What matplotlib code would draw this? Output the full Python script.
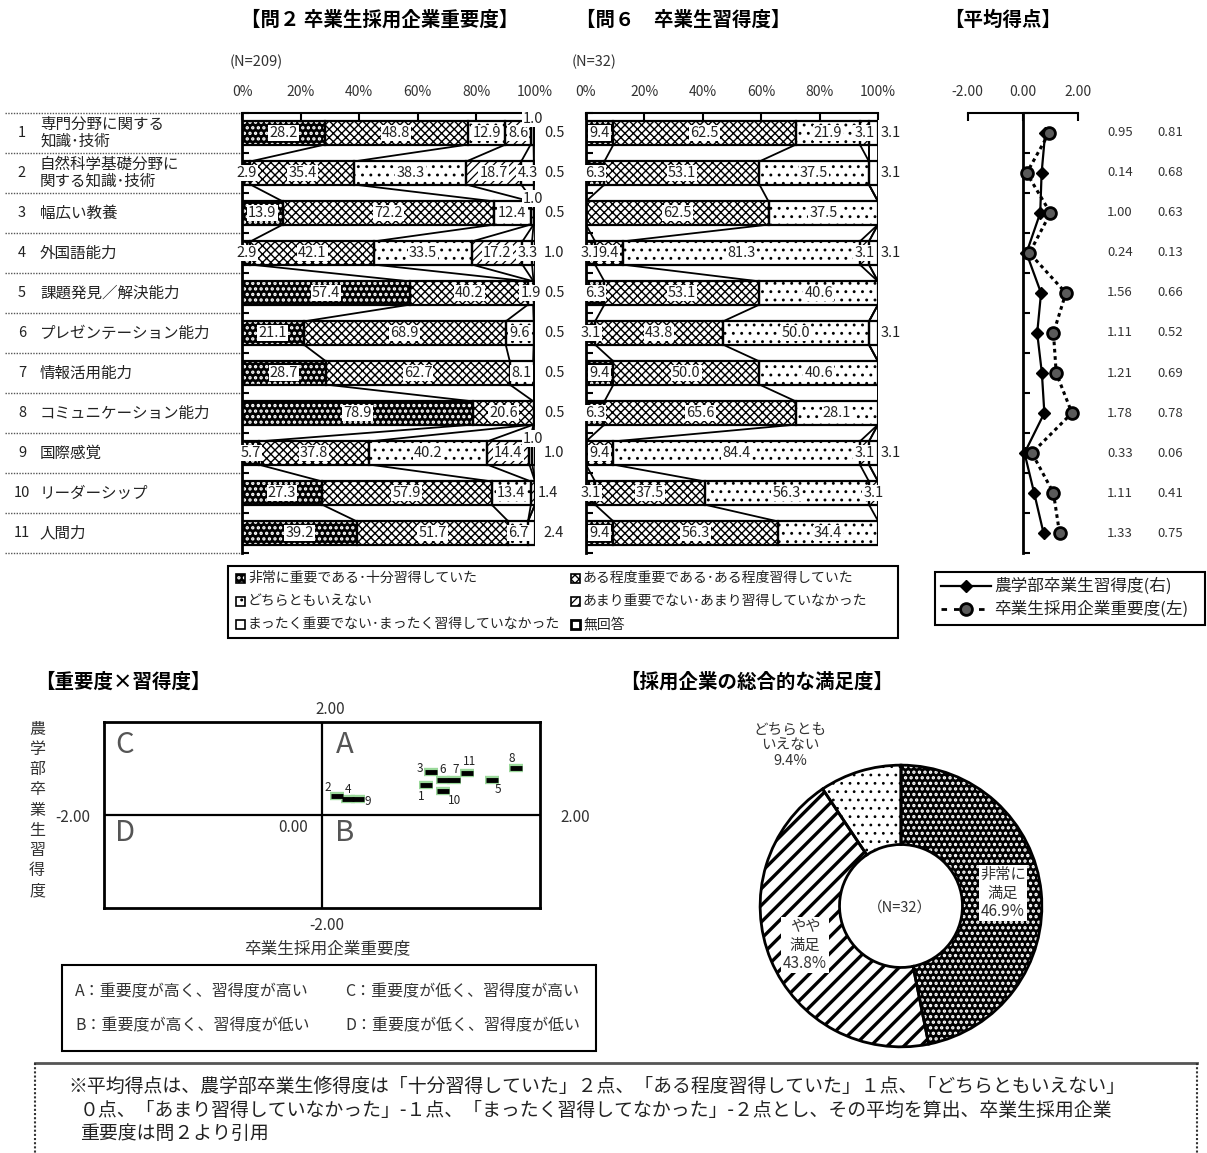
import matplotlib
matplotlib.use('Agg')
import matplotlib.pyplot as plt
from matplotlib.patches import Rectangle
import numpy as np

plt.rcParams['font.family'] = ['Noto Sans CJK JP', 'DejaVu Sans']
plt.rcParams['hatch.linewidth'] = 0.8

W, H, DPI = 1207, 1153, 100

# ---------------- data ----------------
items = ["専門分野に関する\n知識･技術", "自然科学基礎分野に\n関する知識･技術", "幅広い教養",
         "外国語能力", "課題発見／解決能力", "プレゼンテーション能力", "情報活用能力",
         "コミュニケーション能力", "国際感覚", "リーダーシップ", "人間力"]

categories = ["非常に重要である･十分習得していた", "ある程度重要である･ある程度習得していた",
              "どちらともいえない", "あまり重要でない･あまり習得していなかった",
              "まったく重要でない･まったく習得していなかった", "無回答"]

imp_very     = [28.2, 2.9, 13.9, 2.9, 57.4, 21.1, 28.7, 78.9, 5.7, 27.3, 39.2]
imp_some     = [48.8, 35.4, 72.2, 42.1, 40.2, 68.9, 62.7, 20.6, 37.8, 57.9, 51.7]
imp_neither  = [12.9, 38.3, 12.4, 33.5, 1.9, 9.6, 8.1, 0, 40.2, 13.4, 6.7]
imp_notvery  = [8.6, 18.7, 1.0, 17.2, 0, 0, 0, 0, 14.4, 1.4, 0]
imp_notatall = [1.0, 4.3, 0, 3.3, 0, 0, 0, 0, 1.0, 0, 0]
imp_na       = [0.5, 0.5, 0.5, 1.0, 0.5, 0.5, 0.5, 0.5, 1.0, 0, 2.4]

lea_very     = [9.4, 6.3, 0, 3.1, 6.3, 3.1, 9.4, 6.3, 0, 3.1, 9.4]
lea_some     = [62.5, 53.1, 62.5, 9.4, 53.1, 43.8, 50.0, 65.6, 9.4, 37.5, 56.3]
lea_neither  = [21.9, 37.5, 37.5, 81.3, 40.6, 50.0, 40.6, 28.1, 84.4, 56.3, 34.4]
lea_notvery  = [3.1, 0, 0, 3.1, 0, 0, 0, 0, 3.1, 3.1, 0]
lea_notatall = [0, 0, 0, 0, 0, 0, 0, 0, 0, 0, 0]
lea_na       = [3.1, 3.1, 0, 3.1, 0, 3.1, 0, 0, 3.1, 0, 0]

imp_avg = [0.95, 0.14, 1.00, 0.24, 1.56, 1.11, 1.21, 1.78, 0.33, 1.11, 1.33]
lea_avg = [0.81, 0.68, 0.63, 0.13, 0.66, 0.52, 0.69, 0.78, 0.06, 0.41, 0.75]

# y positions of the points as drawn in the quadrant chart
scatter_y = [0.64, 0.41, 0.93, 0.34, 0.76, 0.75, 0.75, 1.01, 0.34, 0.52, 0.91]

sat_labels = ["非常に\n満足", "やや\n満足", "どちらとも\nいえない"]
sat_values = [46.9, 43.8, 9.4]

# ---------------- figure ----------------
fig = plt.figure(figsize=(W / DPI, H / DPI), dpi=DPI)
fig.patch.set_facecolor('white')


def add_ax(x0, y0, x1, y1):
    return fig.add_axes([x0 / W, 1 - y1 / H, (x1 - x0) / W, (y1 - y0) / H])


def hlw(p, v):
    if hasattr(p, 'set_hatch_linewidth'):
        p.set_hatch_linewidth(v)


BH = 0.58
TOP, BOT = 113, 553
n = len(items)
ys = np.arange(n)
TXT = '#222222'
LBOX = dict(boxstyle='square,pad=0.08', fc='white', ec='none')
VFS = 10.5

styles = [
    dict(fc='black', hatch='...', hc='white', hl=1.6),
    dict(fc='white', hatch='xxxx', hc='black', hl=1.0),
    dict(fc='white', hatch='..', hc='black', hl=0.9),
    dict(fc='white', hatch='////', hc='black', hl=0.9),
    dict(fc='white', hatch=None, hc='black', hl=0.8),
    dict(fc='white', hatch=None, hc='black', hl=0.8),
]


def bar_panel(x0, x1, series, na_off):
    ax = add_ax(x0, TOP, x1, BOT)
    cum = np.zeros(n)
    bounds = []
    for k, vals in enumerate(series):
        vals = np.asarray(vals, float)
        st = styles[k]
        m = vals > 0
        bc = ax.barh(ys[m], vals[m], left=cum[m], height=BH, color=st['fc'],
                     edgecolor=st['hc'], hatch=st['hatch'], linewidth=0, zorder=2)
        for p in bc.patches:
            hlw(p, st['hl'])
        ax.barh(ys[m], vals[m], left=cum[m], height=BH, fill=False,
                edgecolor='black', linewidth=1.6, zorder=3)
        for i in range(n):
            v = vals[i]
            if v <= 0:
                continue
            s = f'{v:.1f}'
            if k == len(series) - 1:
                ax.text(100 + na_off, i, s, ha='center', va='center', fontsize=VFS,
                        color=TXT, clip_on=False, zorder=6)
            elif v <= 1.0:
                ax.text(99.3, i - 0.36, s, ha='center', va='center', fontsize=VFS,
                        color=TXT, bbox=LBOX, clip_on=False, zorder=6)
            elif v < 2 and cum[i] + v >= 99.95:
                ax.text(101.0, i, s, ha='left', va='center', fontsize=VFS,
                        color=TXT, bbox=LBOX, clip_on=False, zorder=6)
            else:
                ax.text(cum[i] + v / 2, i, s, ha='center', va='center', fontsize=VFS,
                        color=TXT, bbox=LBOX, clip_on=False, zorder=6)
        cum = cum + vals
        bounds.append(cum.copy())
    for b in bounds:
        for i in range(n - 1):
            ax.plot([b[i], b[i + 1]], [i + BH / 2, i + 1 - BH / 2], color='black',
                    lw=1.3, zorder=1, solid_capstyle='butt')
    ax.set_xlim(0, 100)
    ax.set_ylim(n - 0.5, -0.5)
    ax.xaxis.tick_top()
    ax.set_xticks([0, 20, 40, 60, 80, 100])
    ax.set_xticklabels(['0%', '20%', '40%', '60%', '80%', '100%'])
    ax.tick_params(axis='x', direction='in', length=5, width=1.5, pad=10,
                   labelsize=10, labelcolor='#333333', top=True, bottom=False)
    ax.set_yticks([])
    ax.set_yticks(np.arange(n + 1) - 0.5, minor=True)
    ax.tick_params(axis='y', which='minor', direction='in', length=5, width=1.5)
    for sp in ['right', 'bottom']:
        ax.spines[sp].set_visible(False)
    ax.spines['top'].set_linewidth(1.5)
    ax.spines['left'].set_linewidth(2)
    ax.patch.set_alpha(0)
    return ax


imp_series = [imp_very, imp_some, imp_neither, imp_notvery, imp_notatall, imp_na]
lea_series = [lea_very, lea_some, lea_neither, lea_notvery, lea_notatall, lea_na]
bar_panel(242, 535, imp_series, 6.5)
bar_panel(586, 878, lea_series, 4.5)

# ---------------- average score panel ----------------
ax3 = add_ax(967.7, TOP, 1078, BOT)
ax3.set_xlim(-2, 2)
ax3.set_ylim(n - 0.5, -0.5)
ax3.plot(lea_avg, ys, '-', color='black', lw=1.6, marker='D', ms=6.5,
         mfc='black', mec='black', zorder=3, clip_on=False)
ax3.plot(imp_avg, ys, linestyle=(0, (1.2, 1.2)), color='black', lw=2.2, marker='o',
         ms=8.5, mfc='#5a5a5a', mec='black', mew=2, zorder=4, clip_on=False)
for i in range(n):
    ax3.text(1.381, i, f'{imp_avg[i]:.2f}', transform=ax3.get_yaxis_transform(),
             ha='center', va='center', fontsize=9.5, color='#333333')
    ax3.text(1.834, i, f'{lea_avg[i]:.2f}', transform=ax3.get_yaxis_transform(),
             ha='center', va='center', fontsize=9.5, color='#333333')
ax3.xaxis.tick_top()
ax3.set_xticks([-2, 0, 2])
ax3.set_xticklabels(['-2.00', '0.00', '2.00'])
ax3.tick_params(axis='x', direction='in', length=6, width=1.5, pad=10,
                labelsize=10, labelcolor='#333333', top=True, bottom=False)
ax3.set_yticks([])
ax3.set_yticks(np.arange(n + 1) - 0.5, minor=True)
ax3.tick_params(axis='y', which='minor', direction='in', length=5, width=1.5)
ax3.spines['left'].set_position(('data', 0))
ax3.spines['left'].set_linewidth(2)
ax3.spines['top'].set_linewidth(1.5)
for sp in ['right', 'bottom']:
    ax3.spines[sp].set_visible(False)
ax3.patch.set_alpha(0)

# ---------------- quadrant chart ----------------
ax4 = add_ax(104, 722, 540, 908)
ax4.set_xlim(-2, 2)
ax4.set_ylim(-2, 2)
ax4.axhline(0, color='black', lw=1.6)
ax4.axvline(0, color='black', lw=1.6)
for sp in ax4.spines.values():
    sp.set_linewidth(2)
ax4.set_xticks([])
ax4.set_yticks([])
ax4.plot(imp_avg, scatter_y, linestyle='none', marker='_', ms=9.5, mew=6,
         color='#9ad89a', zorder=3)
ax4.plot(imp_avg, scatter_y, linestyle='none', marker='_', ms=8.5, mew=3.5,
         color='black', zorder=4)
pt_off = {1: (-3, -8), 2: (-7, 6), 3: (-8, 2), 4: (0, 7), 5: (4, -7), 6: (0, 8),
          7: (1, 8), 8: (-3, 7), 9: (7, -2), 10: (8, -7), 11: (2, 8)}
for i in range(n):
    ox, oy = pt_off[i + 1]
    ax4.annotate(str(i + 1), (imp_avg[i], scatter_y[i]), xytext=(ox, oy),
                 textcoords='offset points', ha='center', va='center',
                 fontsize=8.5, color='#222222', zorder=5)

# ---------------- donut ----------------
ax5 = add_ax(758, 763, 1044, 1049)
ax5.set_aspect('equal')
with plt.rc_context({'hatch.linewidth': 1.0}):
    wedges, _ = ax5.pie(sat_values, radius=0.985, startangle=90, counterclock=False,
                        wedgeprops=dict(width=0.985 - 0.43, linewidth=0))
don_styles = [('black', 'white', '...', 1.6), ('white', 'black', '//', 2.4),
              ('white', 'black', '..', 0.8)]
for w, (fc, hc, ht, hl) in zip(wedges, don_styles):
    w.set_facecolor(fc)
    w.set_edgecolor(hc)
    w.set_hatch(ht)
    w.set_linewidth(0)
    hlw(w, hl)
ax5.pie(sat_values, radius=0.985, startangle=90, counterclock=False,
        wedgeprops=dict(width=0.985 - 0.43, linewidth=2, edgecolor='black', fill=False))
ax5.set_xlim(-1, 1)
ax5.set_ylim(-1, 1)
ax5.axis('off')

# ---------------- overlay (pixel coordinates) ----------------
ov = fig.add_axes([0, 0, 1, 1])
ov.set_xlim(0, W)
ov.set_ylim(H, 0)
ov.axis('off')
ov.patch.set_alpha(0)


def T(x, y, s, **kw):
    kw.setdefault('ha', 'center')
    kw.setdefault('va', 'center')
    kw.setdefault('color', TXT)
    ov.text(x, y, s, **kw)


T(380, 20, '【問２ 卒業生採用企業重要度】', fontsize=14, fontweight='bold', color='black')
T(683, 20, '【問６　卒業生習得度】', fontsize=14, fontweight='bold', color='black')
T(1003, 20, '【平均得点】', fontsize=14, fontweight='bold', color='black')
T(230, 62, '(N=209)', ha='left', fontsize=10.5, color='#333333')
T(572, 62, '(N=32)', ha='left', fontsize=10.5, color='#333333')

# category labels and dotted separators
for j in range(n + 1):
    yy = TOP + j * (BOT - TOP) / n
    ov.plot([5, 240], [yy, yy], color='#555555', lw=1.0, linestyle=(0, (1, 1)))
for i, lab in enumerate(items):
    yy = TOP + (i + 0.5) * (BOT - TOP) / n
    T(22, yy, str(i + 1), fontsize=10.5)
    T(40, yy, lab, ha='left', fontsize=11.2, linespacing=1.0)

# bar legend
ov.add_patch(Rectangle((228, 566), 670, 72, fill=False, lw=1.5, ec='black'))
for k, cat in enumerate(categories):
    cx = [236, 571][k % 2]
    cy = [578, 601, 624][k // 2]
    st = styles[k]
    sq = Rectangle((cx, cy - 4.5), 9, 9, facecolor=st['fc'], edgecolor=st['hc'],
                   hatch=st['hatch'], lw=0)
    hlw(sq, st['hl'])
    ov.add_patch(sq)
    ov.add_patch(Rectangle((cx, cy - 4.5), 9, 9, fill=False, edgecolor='black',
                           lw=2.0 if k == 5 else 1.2))
    T(cx + 12, cy, cat, ha='left', fontsize=10)

# average legend
ov.add_patch(Rectangle((935, 572), 270, 53, fill=False, lw=1.5, ec='black'))
ov.plot([941, 991], [586, 586], '-', color='black', lw=1.6)
ov.plot([966], [586], 'D', color='black', ms=6.5)
T(994, 586, '農学部卒業生習得度(右)', ha='left', fontsize=12)
ov.plot([941, 991], [609, 609], linestyle=(0, (2, 2.5)), color='black', lw=2)
ov.plot([966], [609], 'o', ms=8.5, mfc='#5a5a5a', mec='black', mew=2)
T(994, 609, '卒業生採用企業重要度(左)', ha='left', fontsize=12)

# quadrant chart texts
T(35, 682, '【重要度×習得度】', ha='left', fontsize=14, fontweight='bold', color='black')
T(330, 710, '2.00', fontsize=11, color='#333333')
T(73, 817, '-2.00', fontsize=11, color='#333333')
T(575, 817, '2.00', fontsize=11, color='#333333')
T(293, 827, '0.00', fontsize=11, color='#333333')
T(327, 925, '-2.00', fontsize=11, color='#333333')
for ch, (qx, qy) in zip('CADB', [(125, 745), (345, 745), (125, 833), (345, 833)]):
    T(qx, qy, ch, fontsize=21, color='#555555')
T(37, 810, '\n'.join('農学部卒業生習得度'), fontsize=11.5, linespacing=1.25, color='#333333')
T(327, 949, '卒業生採用企業重要度', fontsize=12, color='#333333')

ov.add_patch(Rectangle((62, 965), 534, 86, fill=False, lw=1.5, ec='black'))
T(75, 992, 'A：重要度が高く、習得度が高い', ha='left', fontsize=11.5, color='#333333')
T(345, 992, 'C：重要度が低く、習得度が高い', ha='left', fontsize=11.5, color='#333333')
T(75, 1026, 'B：重要度が高く、習得度が低い', ha='left', fontsize=11.5, color='#333333')
T(345, 1026, 'D：重要度が低く、習得度が低い', ha='left', fontsize=11.5, color='#333333')

# donut texts
T(620, 682, '【採用企業の総合的な満足度】', ha='left', fontsize=14, fontweight='bold', color='black')
T(790, 745, f'{sat_labels[2]}\n{sat_values[2]:.1f}%', fontsize=10.5, linespacing=1.15, color='#333333')
T(1003, 893, f'{sat_labels[0]}\n{sat_values[0]:.1f}%', fontsize=11, linespacing=1.1, color='#333333',
  bbox=dict(boxstyle='square,pad=0.1', fc='white', ec='none'))
T(805, 945, f'{sat_labels[1]}\n{sat_values[1]:.1f}%', fontsize=11, linespacing=1.1, color='#333333',
  bbox=dict(boxstyle='square,pad=0.1', fc='white', ec='none'))
T(900, 908, '（N=32）', fontsize=10.5, color='#333333')

# footnote
ov.plot([35, 1197], [1063, 1063], color='#555555', lw=2)
ov.plot([35, 35], [1063, 1153], color='#333333', lw=1.5, linestyle=(0, (1, 1)))
ov.plot([1197, 1197], [1063, 1153], color='#333333', lw=1.5, linestyle=(0, (1, 1)))
T(68, 1086, '※平均得点は、農学部卒業生修得度は「十分習得していた」２点、「ある程度習得していた」１点、「どちらともいえない」',
  ha='left', fontsize=13.6, color='#222222')
T(80, 1110, '０点、「あまり習得していなかった」-１点、「まったく習得してなかった」-２点とし、その平均を算出、卒業生採用企業',
  ha='left', fontsize=13.6, color='#222222')
T(80, 1133, '重要度は問２より引用', ha='left', fontsize=13.6, color='#222222')

fig.savefig('out.png', dpi=DPI, facecolor='white')
